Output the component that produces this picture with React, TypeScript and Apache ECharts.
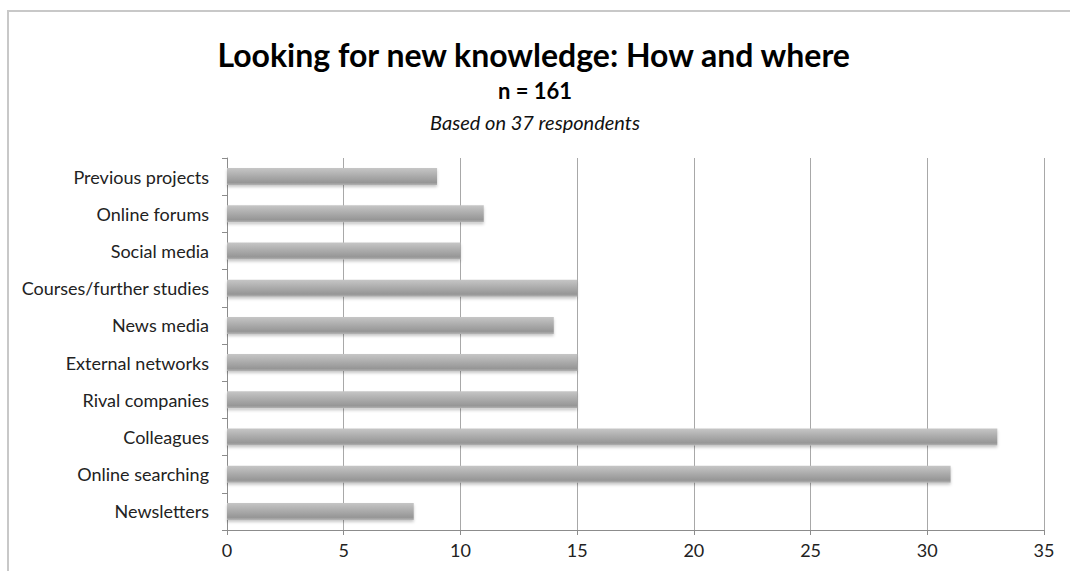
import React, { useEffect, useRef } from "react";
import * as echarts from "echarts";

const categories = [
  "Newsletters",
  "Online searching",
  "Colleagues",
  "Rival companies",
  "External networks",
  "News media",
  "Courses/further studies",
  "Social media",
  "Online forums",
  "Previous projects",
];
const values = [8, 31, 33, 15, 15, 14, 15, 10, 11, 9];
const xTicks = [0, 5, 10, 15, 20, 25, 30, 35];

const FONT = "Lato, 'Open Sans', sans-serif";

export default function App() {
  const ref = useRef<HTMLDivElement>(null);
  useEffect(() => {
    if (!ref.current) return;
    const chart = echarts.init(ref.current, null, { renderer: "svg" });
    chart.setOption({
      animation: false,
      backgroundColor: "#ffffff",
      textStyle: { fontFamily: FONT },
      graphic: [
        {
          type: "rect",
          shape: { x: 8, y: 11, width: 1100, height: 620 },
          style: { fill: "none", stroke: "#c8c8c8", lineWidth: 2 },
          silent: true,
        },
        {
          type: "text",
          left: "center",
          top: 38,
          style: {
            text: "Looking for new knowledge: How and where",
            font: `bold 32px ${FONT}`,
            fill: "#000",
          },
        },
        {
          type: "text",
          left: "center",
          top: 79,
          style: { text: "n = 161", font: `bold 22px ${FONT}`, fill: "#000" },
        },
        {
          type: "text",
          left: "center",
          top: 112,
          style: { text: "Based on 37 respondents", font: `italic 20px ${FONT}`, fill: "#111" },
        },
      ],
      grid: { left: 227, right: 26, top: 158, bottom: 41, containLabel: false },
      xAxis: {
        type: "value",
        min: 0,
        max: 35,
        interval: 5,
        axisLine: { show: true, lineStyle: { color: "#8c8c8c", width: 1 } },
        axisTick: { show: true, length: 5, lineStyle: { color: "#8c8c8c" } },
        axisLabel: {
          color: "#222",
          fontSize: 18,
          fontFamily: FONT,
          margin: 11,
          formatter: (v: number) => (xTicks.includes(v) ? String(v) : ""),
        },
        splitLine: { show: true, lineStyle: { color: "#a8a8a8", width: 1 } },
      },
      yAxis: {
        type: "category",
        data: categories,
        axisLine: { show: true, lineStyle: { color: "#8c8c8c", width: 1 } },
        axisTick: { show: true, length: 5, lineStyle: { color: "#8c8c8c" } },
        axisLabel: { color: "#222", fontSize: 18, fontFamily: FONT, margin: 18 },
        splitLine: { show: false },
      },
      series: [
        {
          type: "bar",
          data: values,
          barWidth: 17,
          itemStyle: {
            color: new echarts.graphic.LinearGradient(0, 0, 0, 1, [
              { offset: 0, color: "#c6c6c6" },
              { offset: 0.45, color: "#acacac" },
              { offset: 0.85, color: "#969696" },
              { offset: 1, color: "#b4b4b4" },
            ]),
            shadowColor: "rgba(0,0,0,0.22)",
            shadowBlur: 3,
            shadowOffsetY: 2,
          },
        },
      ],
    });
    return () => chart.dispose();
  }, []);
  return (
    <div
      ref={ref}
      style={{ position: "fixed", left: 0, top: 0, width: 1070, height: 571 }}
    />
  );
}
